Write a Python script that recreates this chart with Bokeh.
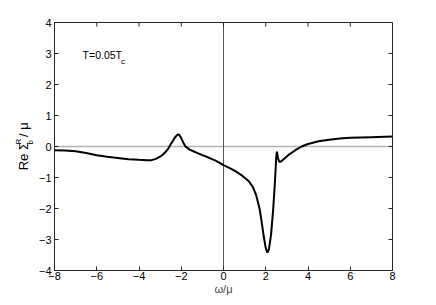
import math
from bokeh.plotting import figure
from bokeh.layouts import row
from bokeh.models import Span, Label, Range1d, FixedTicker
from bokeh.core.properties import value
from bokeh.embed import file_html
from bokeh.resources import INLINE

omega = [-8, -7.5, -7.0, -6.5, -6.0, -5.5, -5.0, -4.5, -4.0, -3.6, -3.4, -3.2, -3.0, -2.85,
         -2.7, -2.6, -2.5, -2.4, -2.3, -2.2, -2.15, -2.1, -2.0, -1.9, -1.8, -1.6, -1.4, -1.2,
         -1.0, -0.8, -0.6, -0.4, -0.2, 0.0, 0.3, 0.6, 0.9, 1.2, 1.4, 1.55, 1.7, 1.8, 1.9, 2.0,
         2.08, 2.15, 2.25, 2.35, 2.43, 2.5, 2.53, 2.58, 2.65, 2.75, 2.9, 3.1, 3.4, 3.7, 4.0,
         4.5, 5.0, 5.5, 6.0, 7.0, 8.0]
re_sigma = [-0.12, -0.13, -0.15, -0.21, -0.28, -0.33, -0.37, -0.41, -0.43, -0.44, -0.44, -0.40,
            -0.33, -0.25, -0.14, -0.05, 0.07, 0.18, 0.29, 0.37, 0.39, 0.38, 0.27, 0.12, 0.0,
            -0.10, -0.16, -0.22, -0.28, -0.33, -0.39, -0.45, -0.52, -0.60, -0.70, -0.81, -0.95,
            -1.12, -1.32, -1.58, -1.98, -2.4, -2.88, -3.28, -3.42, -3.32, -2.85, -2.05, -1.2,
            -0.3, -0.17, -0.38, -0.50, -0.47, -0.38, -0.26, -0.12, 0.0, 0.08, 0.17, 0.22, 0.26,
            0.28, 0.30, 0.32]

x_ticks = [-8, -6, -4, -2, 0, 2, 4, 6, 8]
y_ticks = [-4, -3, -2, -1, 0, 1, 2, 3, 4]
x_lo, x_hi = -8, 8
y_lo, y_hi = -4, 4

FONT = "Liberation Sans"
AX = "#262626"
FW, FH = 338, 248
TICK = 4

p = figure(frame_width=FW, frame_height=FH, min_border_left=16, min_border_right=34,
           min_border_top=22, min_border_bottom=27,
           x_range=Range1d(x_lo, x_hi), y_range=Range1d(y_lo, y_hi),
           output_backend="svg", toolbar_location=None)
p.background_fill_color = "white"
p.border_fill_color = "white"
p.grid.visible = False
p.outline_line_color = AX
p.outline_line_width = 1

for ax in (p.xaxis[0], p.yaxis[0]):
    ax.major_tick_in = TICK
    ax.major_tick_out = 0
    ax.minor_tick_line_color = None
    ax.axis_line_color = AX
    ax.major_tick_line_color = AX
    ax.major_label_text_font = FONT
    ax.major_label_text_font_size = "11px"
    ax.major_label_text_color = "black"
    ax.major_label_standoff = 3
p.xaxis[0].major_label_standoff = 1
p.xaxis[0].ticker = FixedTicker(ticks=x_ticks)
p.yaxis[0].ticker = FixedTicker(ticks=y_ticks)
p.xaxis[0].axis_label = "ω/μ"
p.xaxis[0].axis_label_text_font = FONT
p.xaxis[0].axis_label_text_font_size = "11px"
p.xaxis[0].axis_label_text_font_style = "normal"
p.xaxis[0].axis_label_standoff = 0

# mirrored inward ticks on top and right edges
dy = TICK * (y_hi - y_lo) / FH
dx = TICK * (x_hi - x_lo) / FW
p.segment(x0=x_ticks, y0=[y_hi] * len(x_ticks), x1=x_ticks, y1=[y_hi - dy] * len(x_ticks),
          line_color=AX, line_width=1)
p.segment(x0=[x_hi] * len(y_ticks), y0=y_ticks, x1=[x_hi - dx] * len(y_ticks), y1=y_ticks,
          line_color=AX, line_width=1)

p.add_layout(Span(location=0, dimension="width", line_color="#b4b4b4", line_width=1.5, level="underlay"))
p.add_layout(Span(location=0, dimension="height", line_color="#555555", line_width=1, level="underlay"))

p.line(omega, re_sigma, line_color="black", line_width=2)

# annotation T=0.05T_c
p.add_layout(Label(x=-6.67, y=2.95, text="T=0.05T", text_font=FONT, text_font_size="10.5px",
                   text_align="left", text_baseline="middle", text_color="black"))
p.add_layout(Label(x=-6.67, y=2.95, x_offset=38.5, y_offset=-6, text="c", text_font=FONT,
                   text_font_size="8px", text_align="left", text_baseline="middle",
                   text_color="black"))

# left strip carrying the rotated y-axis label: Re Σ_b^R / μ
LW, LH = 35, 22 + FH + 27
lab = figure(width=LW, height=LH, x_range=Range1d(0, LW), y_range=Range1d(0, LH),
             min_border=0, output_backend="svg", toolbar_location=None)
lab.axis.visible = False
lab.grid.visible = False
lab.outline_line_color = None
lab.background_fill_color = "white"
lab.border_fill_color = "white"
rot = math.pi / 2
bx, by = 23, LH - 177
lab.text(x=[bx], y=[by], text=["Re Σ"], angle=rot, text_font=value(FONT),
         text_font_size=value("13px"), text_align="left", text_baseline="middle", text_color="black")
lab.text(x=[bx - 5], y=[by + 31], text=["R"], angle=rot, text_font=value(FONT),
         text_font_size=value("8px"), text_align="left", text_baseline="middle", text_color="black")
lab.text(x=[bx + 7], y=[by + 31], text=["b"], angle=rot, text_font=value(FONT),
         text_font_size=value("8px"), text_align="left", text_baseline="middle", text_color="black")
lab.text(x=[bx], y=[by + 40], text=["/ μ"], angle=rot, text_font=value(FONT),
         text_font_size=value("13px"), text_align="left", text_baseline="middle", text_color="black")

layout = row(lab, p, spacing=0)
open("out.html", "w").write(file_html(layout, INLINE))
